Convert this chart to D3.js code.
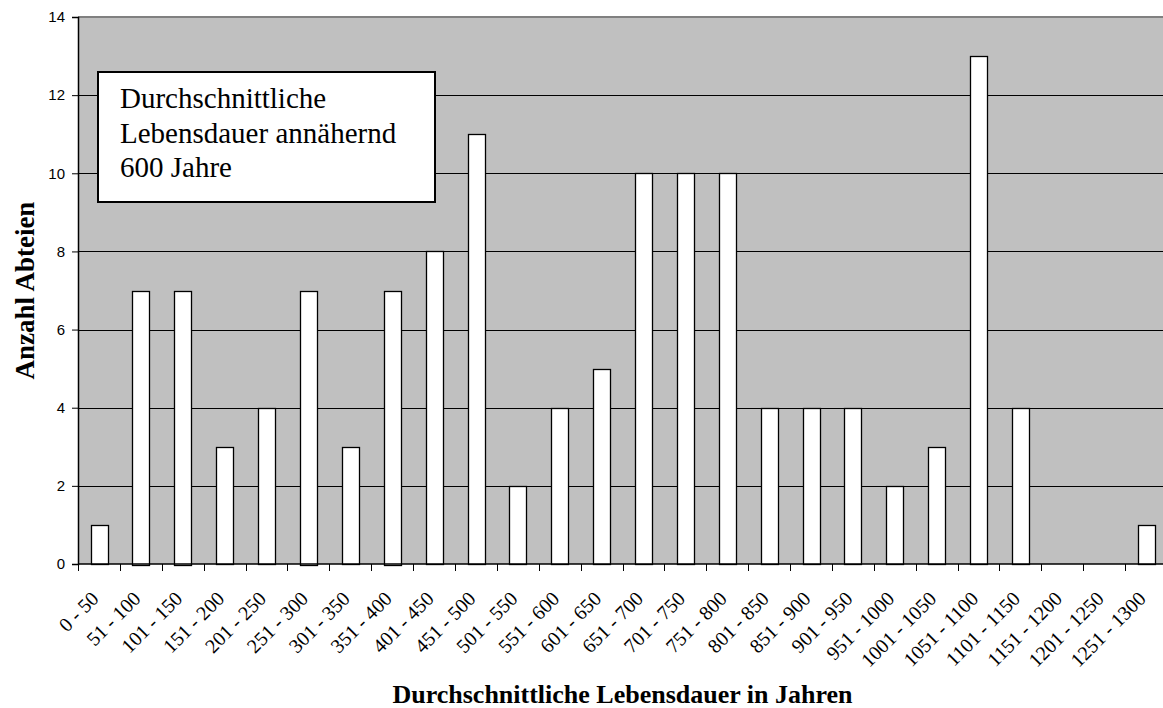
<!DOCTYPE html>
<html>
<head>
<meta charset="utf-8">
<script src="https://cdn.jsdelivr.net/npm/d3@7"></script>
<style>
  body { margin: 0; background: #fff; }
</style>
</head>
<body>
<svg id="chart"></svg>
<script>
// Lebensdauer der Abteien: Histogramm nach 50-Jahres-Klassen

const categories = ["0 - 50", "51 - 100", "101 - 150", "151 - 200", "201 - 250", "251 - 300",
    "301 - 350", "351 - 400", "401 - 450", "451 - 500", "501 - 550", "551 - 600", "601 - 650",
    "651 - 700", "701 - 750", "751 - 800", "801 - 850", "851 - 900", "901 - 950", "951 - 1000",
    "1001 - 1050", "1051 - 1100", "1101 - 1150", "1151 - 1200", "1201 - 1250", "1251 - 1300"];
const counts = [1, 7, 7, 3, 4, 7, 3, 7, 8, 11, 2, 4, 5, 10, 10, 10, 4, 4, 4, 2, 3, 13, 4, 0, 0, 1];
const yTicks = [0, 2, 4, 6, 8, 10, 12, 14];
const noteLines = ["Durchschnittliche", "Lebensdauer annähernd", "600 Jahre"];

const svgWidth = 1163;
const svgHeight = 708;

const svg = d3.select("#chart")
    .attr("width", svgWidth)
    .attr("height", svgHeight);

const margin = { top: 17, right: -4, bottom: 144, left: 78 };
const width = svgWidth - margin.left - margin.right;
const height = svgHeight - margin.top - margin.bottom;

const g = svg.append("g")
    .attr("transform", `translate(${margin.left}, ${margin.top})`);

// band boundaries = tick positions, bars 40% of the band, centred
const xScale = d3.scaleBand().domain(categories).range([0, width])
    .paddingInner(0.6).paddingOuter(0.3);
const yScale = d3.scaleLinear().domain([0, 14]).range([height, 0]);

// plot background
g.append("rect")
    .attr("width", width)
    .attr("height", height)
    .attr("fill", "#c0c0c0");

// gridlines
g.selectAll(".grid")
    .data(yTicks.filter(d => d > 0 && d < 14))
    .join("line")
    .attr("x1", 0)
    .attr("x2", width)
    .attr("y1", d => Math.round(yScale(d)) + 0.5)
    .attr("y2", d => Math.round(yScale(d)) + 0.5)
    .attr("stroke", "#000")
    .attr("stroke-width", 1);

// top border
g.append("line")
    .attr("x1", 0).attr("x2", width)
    .attr("y1", 0).attr("y2", 0)
    .attr("stroke", "#808080")
    .attr("stroke-width", 2);

// bars
g.selectAll(".bar")
    .data(counts)
    .join("rect")
    .attr("x", (d, i) => Math.round(xScale(categories[i])) + 0.5)
    .attr("y", d => Math.round(yScale(d)) + 0.5)
    .attr("width", Math.round(xScale.bandwidth()))
    .attr("height", d => Math.round(height - yScale(d)))
    .attr("fill", "#fff")
    .attr("stroke", "#000")
    .attr("stroke-width", 1.3);

// y axis
const yAxis = d3.axisLeft(yScale).tickValues(yTicks).tickSize(6).tickPadding(7);
const yG = g.append("g").call(yAxis);
yG.select(".domain").attr("stroke", "#000").attr("stroke-width", 1.5);
yG.selectAll("text")
    .attr("font-family", "Arial, 'Liberation Sans', sans-serif")
    .attr("font-size", "15px")
    .attr("fill", "#000");

// x axis: ticks at band boundaries
const step = xScale.step();
const xG = g.append("g").attr("transform", `translate(0, ${height})`);
xG.append("line")
    .attr("x1", 0).attr("x2", width)
    .attr("stroke", "#000").attr("stroke-width", 1.5);
xG.selectAll(".xtick")
    .data(d3.range(categories.length + 1))
    .join("line")
    .attr("x1", i => Math.round(i * step) + 0.5)
    .attr("x2", i => Math.round(i * step) + 0.5)
    .attr("y1", 0).attr("y2", 7)
    .attr("stroke", "#000");
xG.selectAll(".xlabel")
    .data(categories)
    .join("text")
    .attr("text-anchor", "end")
    .attr("font-family", "'Times New Roman', 'Liberation Serif', serif")
    .attr("font-size", "20px")
    .attr("fill", "#000")
    .attr("transform", d => `translate(${xScale(d) + xScale.bandwidth() / 2 - 4}, 31) rotate(-45)`)
    .attr("dy", "0.35em")
    .text(d => d);

// axis titles
svg.append("text")
    .attr("x", margin.left + (svgWidth + 4 - margin.left) / 2)
    .attr("y", 703)
    .attr("text-anchor", "middle")
    .attr("font-family", "'Times New Roman', 'Liberation Serif', serif")
    .attr("font-weight", "bold")
    .attr("font-size", "26px")
    .text("Durchschnittliche Lebensdauer in Jahren");

svg.append("text")
    .attr("transform", `translate(34, ${margin.top + height / 2}) rotate(-90)`)
    .attr("text-anchor", "middle")
    .attr("font-family", "'Times New Roman', 'Liberation Serif', serif")
    .attr("font-weight", "bold")
    .attr("font-size", "27px")
    .text("Anzahl Abteien");

// annotation box
const note = svg.append("g").attr("transform", "translate(98, 72)");
note.append("rect")
    .attr("width", 337)
    .attr("height", 130)
    .attr("fill", "#fff")
    .attr("stroke", "#000")
    .attr("stroke-width", 2);
note.selectAll("text")
    .data(noteLines)
    .join("text")
    .attr("x", 22)
    .attr("y", (d, i) => 36 + i * 34.5)
    .attr("font-family", "'Times New Roman', 'Liberation Serif', serif")
    .attr("font-size", "29px")
    .attr("fill", "#000")
    .text(d => d);
</script>
</body>
</html>
